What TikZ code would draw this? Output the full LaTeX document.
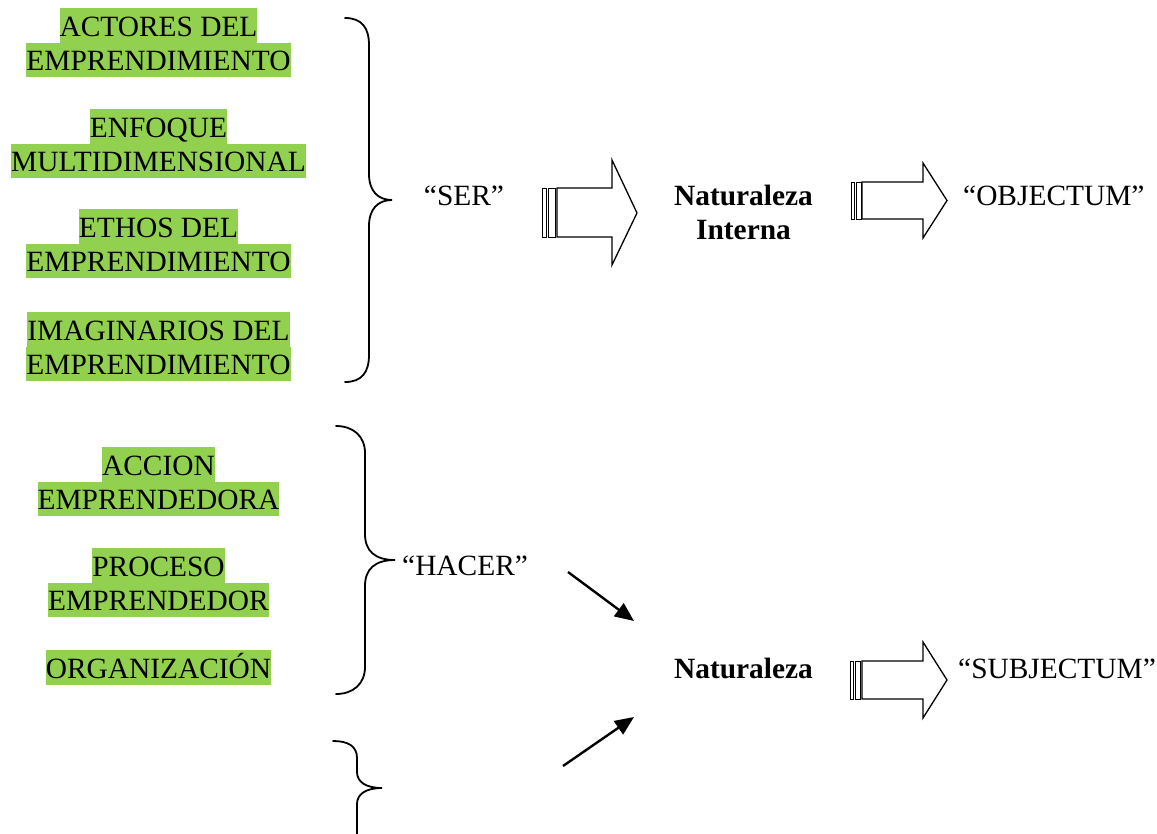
\documentclass[tikz,border=0pt]{standalone}
\usepackage{fontspec}
\setmainfont{Liberation Serif}
\usetikzlibrary{arrows.meta}
\definecolor{hlgreen}{HTML}{92D050}
\begin{document}
\begin{tikzpicture}[x=1pt,y=-1pt,
  every node/.style={font=\fontsize{29.4}{34.5}\selectfont},
  hl/.style={fill=hlgreen,inner xsep=0pt,inner ysep=0pt,text height=28pt,text depth=6.5pt,anchor=base},
  lbl/.style={inner sep=0pt,anchor=base},
  bl/.style={inner sep=0pt,anchor=base,font=\fontsize{29.4}{34.5}\selectfont\bfseries},
  brace/.style={line width=1.8pt,line cap=round},
  fatarrow/.style={line width=1.3pt,fill=white,line join=miter},
  stripe/.style={line width=1pt,fill=white},
  thinarrow/.style={line width=2.4pt,-{Triangle[length=19pt,width=16pt]}}]
\useasboundingbox (0,0) rectangle (1157,833);
% green labels
\node[hl] (a1) at (158.5,36) {ACTORES DEL};
\node[hl] (a2) at (158.5,70.5) {EMPRENDIMIENTO};
\node[hl] (b1) at (158.5,137) {ENFOQUE};
\node[hl] (b2) at (158.5,171.5) {MULTIDIMENSIONAL};
\node[hl] (c1) at (158.5,237) {ETHOS DEL};
\node[hl] (c2) at (158.5,271.5) {EMPRENDIMIENTO};
\node[hl] (d1) at (158.5,340) {IMAGINARIOS DEL};
\node[hl] (d2) at (158.5,374.5) {EMPRENDIMIENTO};
\node[hl] (e1) at (158.5,475) {ACCION};
\node[hl] (e2) at (158.5,509.5) {EMPRENDEDORA};
\node[hl] (f1) at (158.5,576) {PROCESO};
\node[hl] (f2) at (158.5,610.5) {EMPRENDEDOR};
\node[hl] (g1) at (158.5,678) {ORGANIZACIÓN};
% braces
\draw[brace] (345,18) .. controls (362,18) and (369,28) .. (369,45) -- (369,174)
  .. controls (369,191) and (378,200) .. (392,200)
  .. controls (378,200) and (369,209) .. (369,226) -- (369,355)
  .. controls (369,372) and (362,382) .. (345,382);
\draw[brace] (336,426) .. controls (353,426) and (365,436) .. (365,453) -- (365,534)
  .. controls (365,551) and (375,560) .. (395,560)
  .. controls (375,560) and (365,569) .. (365,586) -- (365,667)
  .. controls (365,684) and (353,694) .. (336,694);
\draw[brace] (333,741) .. controls (348,741) and (357,746) .. (357,758) -- (357,772)
  .. controls (357,782) and (366,788) .. (382,788)
  .. controls (366,788) and (357,794) .. (357,804) -- (357,840);
% text labels
\node[lbl] (ser) at (464,205) {“SER”};
\node[bl] (ni1) at (743.5,205) {Naturaleza};
\node[bl] (ni2) at (743.5,239.5) {Interna};
\node[lbl,anchor=base west] (obj) at (963,205) {“OBJECTUM”};
\node[lbl,anchor=base west] (hac) at (402,575) {“HACER”};
\node[bl] (nat) at (743.5,678) {Naturaleza};
\node[lbl,anchor=base west] (sub) at (958,678) {“SUBJECTUM”};
% striped block arrows
\draw[stripe] (542,188) rectangle (546,237);
\draw[stripe] (548.5,188) rectangle (555,237);
\draw[fatarrow] (557,188) -- (612,188) -- (612,160) -- (637,213) -- (612,265) -- (612,237) -- (557,237) -- cycle;
\draw[stripe] (851,182) rectangle (854,219);
\draw[stripe] (856.5,182) rectangle (861,219);
\draw[fatarrow] (862,182) -- (923,182) -- (923,163) -- (947,200.5) -- (923,238) -- (923,219) -- (862,219) -- cycle;
\draw[stripe] (850,661) rectangle (853,699);
\draw[stripe] (855.5,661) rectangle (860,699);
\draw[fatarrow] (862,661) -- (923,661) -- (923,642) -- (947,680) -- (923,718) -- (923,699) -- (862,699) -- cycle;
% thin arrows
\coordinate (h1) at (568,572);
\coordinate (h2) at (634,621);
\coordinate (k1) at (563,766);
\coordinate (k2) at (634,717);
\draw[thinarrow] (h1) -- (h2);
\draw[thinarrow] (k1) -- (k2);
\end{tikzpicture}
\end{document}
